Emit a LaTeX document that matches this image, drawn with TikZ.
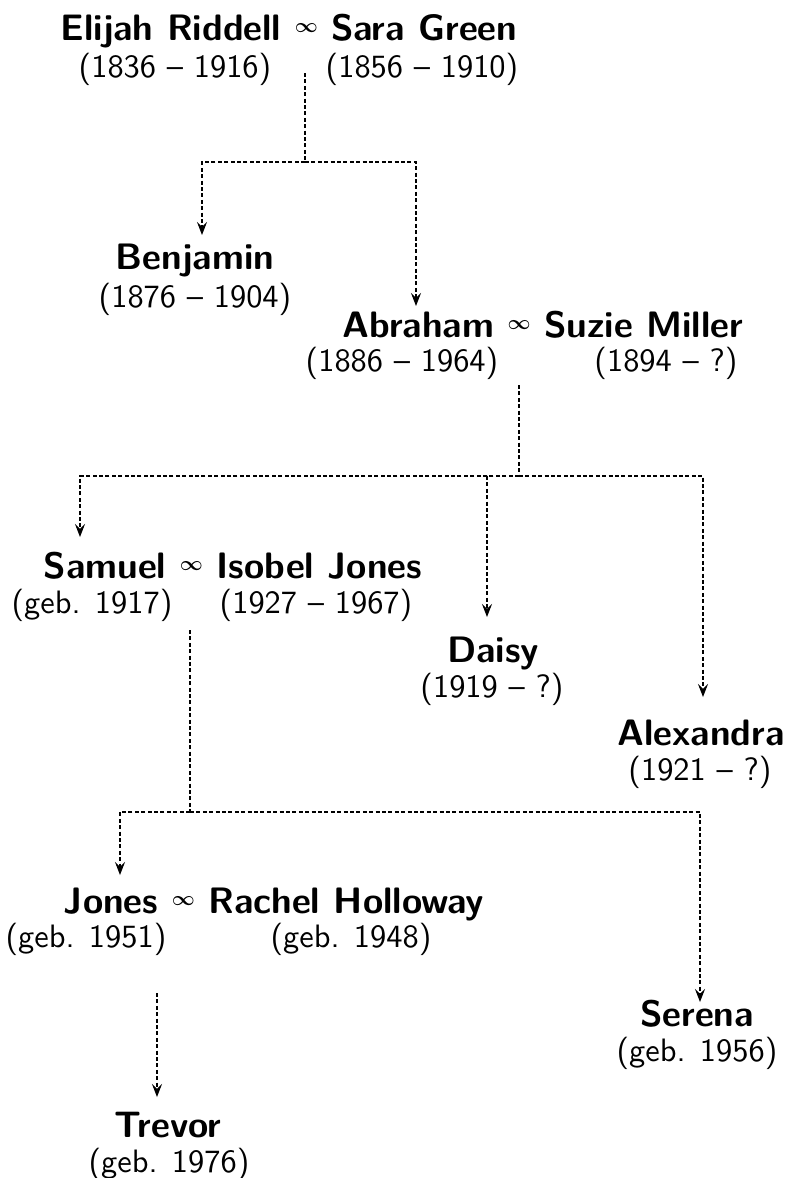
\documentclass[tikz,border=0pt]{standalone}
\usepackage{amsmath}
\usepackage{fontspec}
\usepackage{tikz}
\usetikzlibrary{arrows.meta,positioning}

\newfontfamily\yearfont[Ligatures=TeX]{lmsans10-regular.otf}
\newcommand{\wed}{\raisebox{4pt}{\fontsize{10}{12}\selectfont$\boldsymbol{\infty}$}}

\begin{document}
\begin{tikzpicture}[
			x=0.5pt, y=-0.5pt,
			>={Stealth[length=6.5pt,width=5pt,inset=2.4pt]},
			person/.style={
				font=\fontsize{18.4}{22}\selectfont\bfseries\sffamily,
				inner sep=0pt,
				anchor=base
			},
			years/.style={
				font=\fontsize{16.2}{20}\selectfont\yearfont,
				inner sep=0pt,
				anchor=base
			},
			link/.style={
				line width=0.55pt,
				dash pattern=on 2pt off 1.2pt
			}
			]
			\useasboundingbox (0,0) rectangle (784,1178);
			% We start by placing the people
			
			\node [person] (elijah) at (289,40) {Elijah Riddell \wed{} Sara Green};
			\node [years] (elijahd) at (175,77) {(1836 -- 1916)};
			\node [years] (sarad) at (422,77) {(1856 -- 1910)};
			
			\node [person] (benjamin) at (195,269) {Benjamin};
			\node [years] (benjamind) at (195,307) {(1876 -- 1904)};
			
			\node [person] (abraham) at (543,337) {Abraham \wed{} Suzie Miller};
			\node [years] (abrahamd) at (402,371) {(1886 -- 1964)};
			\node [years] (suzied) at (666,371) {(1894 -- ?)};
			
			\node [person] (samuel) at (233,578) {Samuel \wed{} Isobel Jones};
			\node [years] (samueld) at (92,613) {(geb. 1917)};
			\node [years] (isobeld) at (316,613) {(1927 -- 1967)};
			
			\node [person] (daisy) at (493,662) {Daisy};
			\node [years] (daisyd) at (492,697) {(1919 -- ?)};
			
			\node [person] (alexandra) at (701,745) {Alexandra};
			\node [years] (alexandrad) at (700,780) {(1921 -- ?)};
			
			\node [person] (jones) at (274,913) {Jones \wed{} Rachel Holloway};
			\node [years] (jonesd) at (86,947) {(geb. 1951)};
			\node [years] (racheld) at (351,947) {(geb. 1948)};
			
			\node [person] (serena) at (697,1026) {Serena};
			\node [years] (serenad) at (697,1061) {(geb. 1956)};
			
			\node [person] (trevor) at (168,1137) {Trevor};
			\node [years] (trevord) at (169,1172) {(geb. 1976)};
			
			% Now the lines of descent
			\coordinate (elijah-out) at (305,73);
			\coordinate (abraham-out) at (519,385);
			\coordinate (samuel-out) at (190,630);
			\coordinate (jones-out) at (157,993);
			
			\coordinate (fork1) at (305,162);
			\coordinate (fork2) at (519,476);
			\coordinate (fork3) at (190,812);
			
			\coordinate (benjamin-in) at (202,235);
			\coordinate (abraham-in) at (416,306);
			\coordinate (samuel-in) at (80,537);
			\coordinate (daisy-in) at (487,617);
			\coordinate (alexandra-in) at (703,697);
			\coordinate (jones-in) at (120,875);
			\coordinate (serena-in) at (700,1002);
			\coordinate (trevor-in) at (157,1097);
			
			\draw [link] (elijah-out) -- (fork1);
			\draw [link,->] (fork1) -| (benjamin-in);
			\draw [link,->] (fork1) -| (abraham-in);
			
			\draw [link] (abraham-out) -- (fork2);
			\draw [link,->] (fork2) -| (samuel-in);
			\draw [link,->] (fork2) -| (daisy-in);
			\draw [link,->] (fork2) -| (alexandra-in);
			
			\draw [link] (samuel-out) -- (fork3);
			\draw [link,->] (fork3) -| (jones-in);
			\draw [link,->] (fork3) -| (serena-in);
			
			\draw [link,->] (jones-out) -- (trevor-in);
			
\end{tikzpicture}
\end{document}
